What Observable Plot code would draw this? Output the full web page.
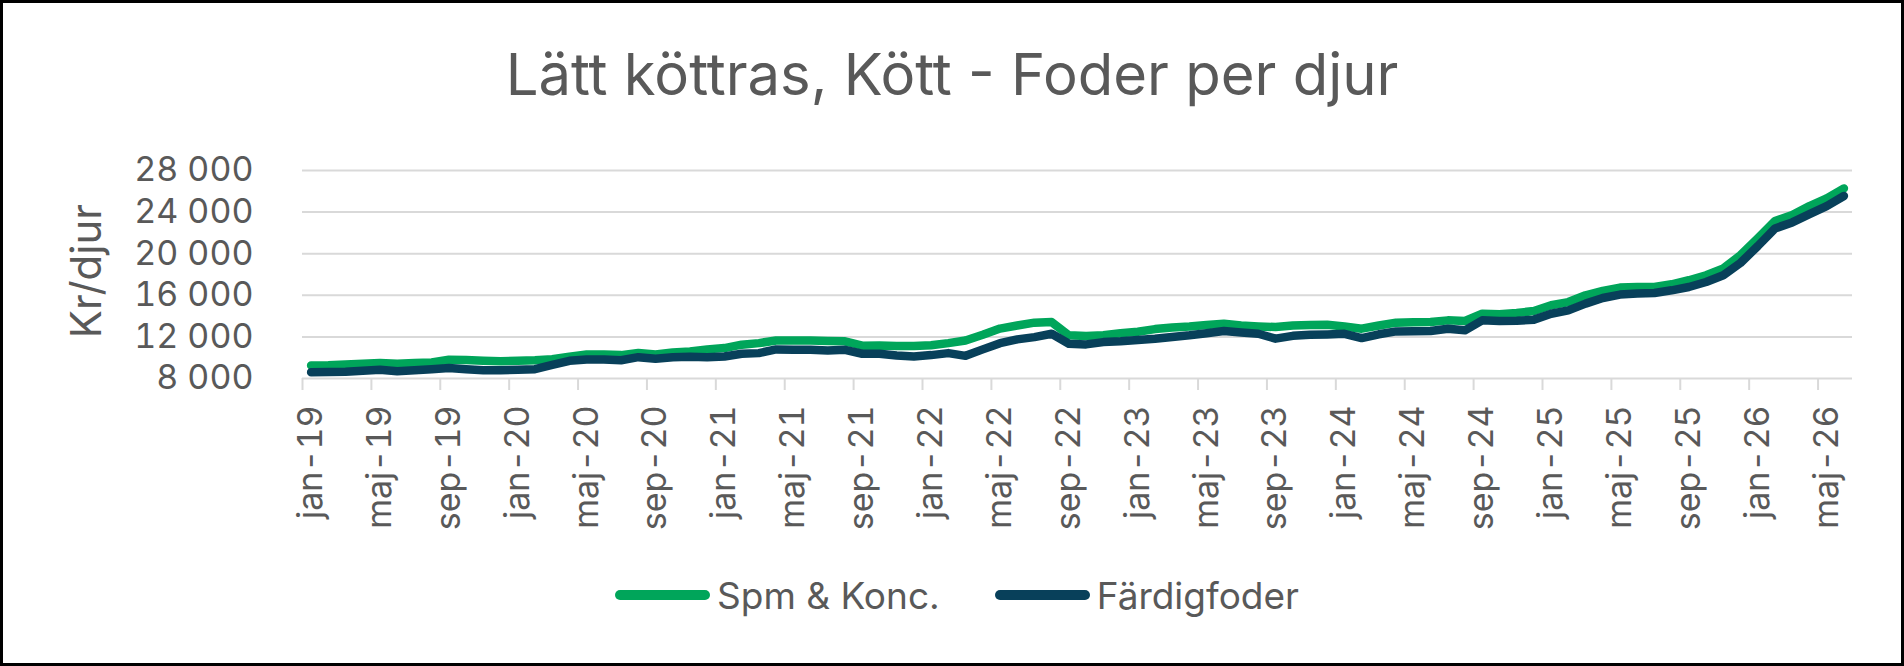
<!DOCTYPE html>
<html>
<head>
<meta charset="utf-8">
<script src="https://cdn.jsdelivr.net/npm/d3@7"></script>
<script src="https://cdn.jsdelivr.net/npm/@observablehq/plot@0.6"></script>
<style>
  body { margin: 0; background: #fff; }
  #wrap { position: relative; width: 1904px; height: 666px; overflow: hidden; background: #fff;
          font-family: Inter, "Liberation Sans", sans-serif; color: #595959; }
  #chart { position: absolute; left: 0; top: 0; }
  #frame { position: absolute; left: 0; top: 0; width: 1904px; height: 666px; box-sizing: border-box;
           border: 3px solid #000; pointer-events: none; }
  #title { position: absolute; left: 0; top: 40px; width: 1904px; text-align: center;
           font-size: 58px; line-height: 68px; white-space: nowrap; }
  #ylabel { position: absolute; left: 86px; top: 271px; transform: translate(-50%, -50%) rotate(-90deg);
            font-size: 42px; line-height: 48px; white-space: nowrap; }
  #legend { position: absolute; left: 615px; top: 570px; height: 50px; display: flex; align-items: center;
            font-size: 37px; white-space: nowrap; }
  .sw { width: 95px; height: 10px; border-radius: 5px; margin-right: 7px; }
  .item { display: flex; align-items: center; }
</style>
</head>
<body>
<div id="wrap">
  <div id="chart"></div>
  <div id="title"></div>
  <div id="ylabel"></div>
  <div id="legend"></div>
  <div id="frame"></div>
</div>
<script>
const titleText = "Lätt köttras, Kött - Foder per djur";
const yTitle = "Kr/djur";
const seriesNames = ["Spm & Konc.", "Färdigfoder"];
const seriesColors = ["#00A55A", "#08405A"];

// x tick labels, one every 4th month starting jan-19
const tickLabels = ["jan-19","maj-19","sep-19","jan-20","maj-20","sep-20","jan-21","maj-21","sep-21",
  "jan-22","maj-22","sep-22","jan-23","maj-23","sep-23","jan-24","maj-24","sep-24",
  "jan-25","maj-25","sep-25","jan-26","maj-26"];
const monthCount = 90; // jan-19 .. jun-26
const tickStep = 4;

const yTicks = [8000, 12000, 16000, 20000, 24000, 28000];

// Spm & Konc. (monthly, jan-19 ..)
const spmKonc = [
  9250, 9280, 9350, 9420, 9500, 9430, 9480, 9550, 9800, 9780, 9700, 9650,
  9700, 9750, 9850, 10100, 10300, 10300, 10250, 10450, 10300, 10500, 10600, 10800,
  10925, 11250, 11400, 11650, 11650, 11650, 11600, 11570, 11150, 11180, 11120, 11120,
  11200, 11400, 11650, 12200, 12800, 13100, 13370, 13430, 12150, 12080, 12150, 12350,
  12500, 12750, 12900, 13000, 13150, 13270, 13100, 13010, 12950, 13100, 13150, 13170,
  13000, 12790, 13100, 13370, 13400, 13430, 13590, 13530, 14230, 14170, 14300, 14490,
  15040, 15350, 16000, 16420, 16740, 16800, 16800, 17060, 17450, 17930, 18580, 19860,
  21470, 23140, 23710, 24580, 25320, 26280
];

// Färdigfoder (monthly, jan-19 ..)
const fardigfoder = [
  8600, 8620, 8650, 8750, 8850, 8700, 8800, 8900, 9000, 8900, 8800, 8800,
  8850, 8900, 9300, 9700, 9830, 9830, 9750, 10050, 9900, 10050, 10090, 10050,
  10120, 10380, 10440, 10800, 10760, 10760, 10700, 10760, 10380, 10380, 10220, 10120,
  10250, 10440, 10180, 10800, 11400, 11760, 11980, 12300, 11340, 11280, 11500, 11580,
  11700, 11820, 12000, 12150, 12350, 12560, 12430, 12300, 11830, 12100, 12200, 12240,
  12300, 11890, 12250, 12530, 12550, 12560, 12790, 12630, 13590, 13530, 13550, 13660,
  14230, 14550, 15200, 15740, 16070, 16170, 16220, 16480, 16800, 17280, 17930, 19120,
  20730, 22430, 23010, 23810, 24580, 25550
];

const seriesValues = [spmKonc, fardigfoder];

const fmt = d => d3.format(",")(d).replace(/,/g, " ");
const labelIdx = tickLabels.map((_, k) => k * tickStep);
const boundaries = labelIdx.map(i => i - 0.5);

const chart = Plot.plot({
  width: 1904,
  height: 666,
  marginTop: 170,
  marginBottom: 288,
  marginLeft: 302,
  marginRight: 52,
  x: { domain: [-0.5, monthCount - 0.5], axis: null },
  y: { domain: [yTicks[0], yTicks[yTicks.length - 1]], axis: null },
  style: { fontFamily: "Inter, 'Liberation Sans', sans-serif", fontSize: "34px", color: "#595959", background: "transparent" },
  marks: [
    Plot.gridY(yTicks, { stroke: "#d9d9d9", strokeOpacity: 1, strokeWidth: 2 }),
    Plot.axisY(yTicks, { tickSize: 0, tickPadding: 49, tickFormat: fmt, fill: "#595959", fontSize: 34 }),
    Plot.axisX(boundaries, { tickSize: 12, stroke: "#d9d9d9", strokeWidth: 2, strokeOpacity: 1, tickFormat: () => "" }),
    Plot.axisX(labelIdx, { tickSize: 0, tickPadding: 27, tickRotate: -90, fill: "#595959", fontSize: 34,
      tickFormat: i => tickLabels[i / tickStep] }),
    ...seriesValues.map((vals, s) => Plot.line(vals, {
      x: (d, i) => i, y: d => d, stroke: seriesColors[s], strokeWidth: 8.5,
      strokeLinecap: "round", strokeLinejoin: "round"
    }))
  ]
});
document.getElementById("chart").appendChild(chart);

document.getElementById("title").textContent = titleText;
document.getElementById("ylabel").textContent = yTitle;
const legend = document.getElementById("legend");
seriesNames.forEach((name, s) => {
  const item = document.createElement("div");
  item.className = "item";
  if (s > 0) item.style.marginLeft = "55px";
  const sw = document.createElement("div");
  sw.className = "sw";
  sw.style.background = seriesColors[s];
  const tx = document.createElement("span");
  tx.textContent = name;
  item.appendChild(sw);
  item.appendChild(tx);
  legend.appendChild(item);
});
</script>
</body>
</html>
